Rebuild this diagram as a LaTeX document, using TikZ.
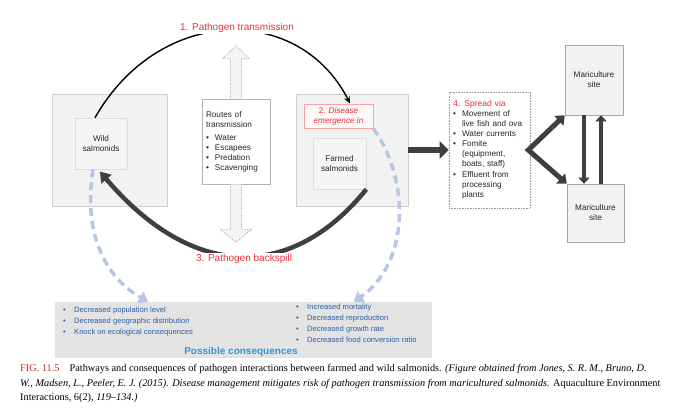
\documentclass[tikz,border=0pt]{standalone}
\usepackage{fontspec}
\setmainfont{Liberation Serif}
\newfontfamily\diagramfont{Liberation Sans}
\usetikzlibrary{arrows.meta}

\definecolor{pathred}{HTML}{E8323C}
\definecolor{textgray}{HTML}{262626}
\definecolor{boxgray}{HTML}{F2F2F2}
\definecolor{edgegray}{HTML}{CFCFCF}
\definecolor{arrowdark}{HTML}{3F3F3F}
\definecolor{dashblue}{HTML}{B7C6E6}
\definecolor{consblue}{HTML}{2D5EA6}
\definecolor{titleblue}{HTML}{2F98D6}
\definecolor{consgray}{HTML}{E3E3E3}
\definecolor{figred}{HTML}{C4302B}

\newcommand\picwidth{676}
\newcommand\picheight{411}
\newcommand\bullitem{\makebox[9pt][l]{\textbullet}}
\newcommand\bullgap{\hspace*{9pt}}
\newcommand\consitem{\makebox[11pt][l]{\textbullet}}

\begin{document}
\begin{tikzpicture}[yscale = -1, x = 1pt, y = 1pt,
	every node/.style = {font = \diagramfont\fontsize{8.2pt}{10pt}\selectfont, text = textgray},
	outerbox/.style = {draw = edgegray, fill = boxgray, line width = 0.8pt},
	fishbox/.style = {draw = edgegray!70, fill = boxgray!80, line width = 0.6pt, align = center},
	listbox/.style = {draw = gray!60, fill = white, line width = 0.6pt, align = left, inner sep = 4pt},
	sitebox/.style = {draw = gray!70, fill = boxgray, line width = 0.6pt, align = center},
	pathlabel/.style = {text = pathred, fill = white, inner sep = 1pt, font = \diagramfont\fontsize{10pt}{12pt}\selectfont},
	hollowarrow/.style = {draw = gray!65, fill = gray!8, densely dotted, line width = 0.8pt},
	bigarrow/.style = {draw = arrowdark, line width = 6pt, -{Triangle[length = 9pt, width = 17pt]}},
	forkarrow/.style = {draw = arrowdark, line width = 5pt, line join = miter, {Triangle[length = 8pt, width = 13pt]}-{Triangle[length = 8pt, width = 13pt]}},
	sitearrow/.style = {draw = arrowdark, line width = 4pt, -{Triangle[length = 6pt, width = 11pt]}},
	effectline/.style = {draw = dashblue, line width = 3.5pt, dash pattern = on 8pt off 5pt, -{Triangle[length = 9pt, width = 13pt]}},
	effectlist/.style = {text = consblue, align = left, inner sep = 0pt, font = \diagramfont\fontsize{7.6pt}{11pt}\selectfont},
	captionline/.style = {text = black, anchor = base west, inner sep = 0pt, font = \rmfamily\fontsize{10.3pt}{12pt}\selectfont}
]
	\fill [white] (0, 0) rectangle (\picwidth, \picheight);
	\useasboundingbox (0, 0) rectangle (\picwidth, \picheight);

	% Wild side:
	\node [outerbox, minimum width = 115pt, minimum height = 112pt] (wildarea) at (109.5, 150) {};
	\node [fishbox, minimum width = 52pt, minimum height = 51pt] (wild) at (101, 143.5) {Wild\\salmonids};

	% Farm side:
	\node [outerbox, minimum width = 112pt, minimum height = 112pt] (farmarea) at (352, 150) {};
	\node [draw = pathred!45, fill = pathred!4, line width = 0.6pt, align = center, text = pathred, minimum width = 69pt, minimum height = 24pt] (alert) at (338.5, 116) {2. \textit{Disease}\\\textit{emergence in}};
	\node [fishbox, minimum width = 53pt, minimum height = 51pt] (farmed) at (339.5, 163.5) {Farmed\\salmonids};

	% Routes of transmission
	\node [listbox, text width = 60pt, minimum height = 85pt] (routes) at (236, 141.5) {Routes of\\transmission\\[3pt]
		\bullitem Water\\
		\bullitem Escapees\\
		\bullitem Predation\\
		\bullitem Scavenging};
	\draw [hollowarrow] ([xshift = -5.5pt]routes.north) -- ++(0, -40) -- ++(-8, 0) -- ++(13.5, -13) -- ++(13.5, 13) -- ++(-8, 0) -- ([xshift = 5.5pt]routes.north);
	\draw [hollowarrow] ([xshift = -5.5pt]routes.south) -- ++(0, 45) -- ++(-10, 0) -- ++(15.5, 13) -- ++(15.5, -13) -- ++(-10, 0) -- ([xshift = 5.5pt]routes.south);

	% Spread via
	\node [listbox, densely dotted, draw = gray!80, text width = 73pt, minimum height = 116pt] (spread) at (489.5, 150) {\textcolor{pathred}{\fontsize{8.6pt}{10pt}\selectfont 4. Spread via}\\
		\bullitem Movement of\\
		\bullgap live fish and ova\\
		\bullitem Water currents\\
		\bullitem Fomite\\
		\bullgap (equipment,\\
		\bullgap boats, staff)\\[1pt]
		\bullitem Effluent from\\
		\bullgap processing\\
		\bullgap plants};

	% Mariculture sites
	\node [sitebox, minimum width = 58pt, minimum height = 70pt] (sitetop) at (594, 80) {Mariculture\\site};
	\node [sitebox, minimum width = 57pt, minimum height = 58pt] (sitebottom) at (595.5, 213) {Mariculture\\site};

	\draw [bigarrow] (farmarea.east) -- (spread.west);
	\draw [forkarrow] (sitetop.south west) -- ([xshift = -2pt]spread.east) -- (sitebottom.north west);
	\draw [sitearrow] ([xshift = -10pt]sitetop.south) -- ([xshift = -10pt]sitetop.south |- sitebottom.north);
	\draw [sitearrow] ([xshift = 7pt]sitetop.south |- sitebottom.north) -- ([xshift = 7pt]sitetop.south);

	% Possible consequences
	\node [fill = consgray, minimum width = 377pt, minimum height = 56pt] (cons) at (243.5, 330) {};
	\node [effectlist, anchor = north west] (wildeffects) at (63, 307) {\consitem Decreased population level\\
		\consitem Decreased geographic distribution\\
		\consitem Knock on ecological consequences};
	\node [effectlist, anchor = north west] (farmeffects) at (296, 304) {\consitem Increased mortality\\
		\consitem Decreased reproduction\\
		\consitem Decreased growth rate\\
		\consitem Decreased food conversion ratio};
	\node [text = titleblue, font = \diagramfont\bfseries\fontsize{10pt}{12pt}\selectfont] (constitle) at (241, 352) {Possible consequences};

	% Pathways
	\draw [line width = 1.4pt, -{Stealth[length = 7pt, width = 6pt]}] ([xshift = -6pt]wild.north) .. controls (160, 4) and (300, 4) .. ([xshift = 11.5pt]alert.north);
	\draw [draw = arrowdark, line width = 4.5pt, shorten >= 3pt, -{Triangle[length = 10pt, width = 13pt]}] (farmed.south east) .. controls (292, 281) and (193, 281) .. ([xshift = -3pt]wild.south);
	\draw [effectline] ([xshift = -8pt]wild.south) .. controls (82, 240) and (110, 280) .. ([xshift = -95.5pt]cons.north);
	\draw [effectline] (alert.south east) .. controls (410, 180) and (410, 262) .. ([xshift = 110.5pt]cons.north);
	\node [pathlabel] (translabel) at (237, 28) {1. Pathogen transmission};
	\node [pathlabel] (spilllabel) at (244, 259) {3. Pathogen backspill};

	% Caption
	\node [captionline] (caption1) at (20, 371) {\textcolor{figred}{FIG. 11.5}\hspace{10pt}Pathways and consequences of pathogen interactions between farmed and wild salmonids. \textit{(Figure obtained from Jones, S. R. M., Bruno, D.}};
	\node [captionline] (caption2) at (20, 386) {\textit{W., Madsen, L., Peeler, E. J. (2015). Disease management mitigates risk of pathogen transmission from maricultured salmonids.} Aquaculture Environment};
	\node [captionline] (caption3) at (20, 400.5) {Interactions, 6(2), \textit{119--134.)}};
\end{tikzpicture}
\end{document}
